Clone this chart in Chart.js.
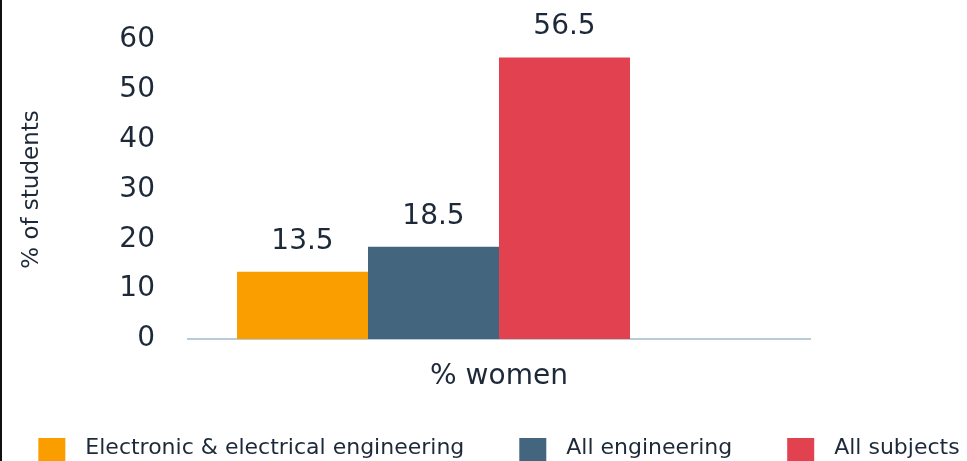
<!DOCTYPE html>
<html>
<head>
<meta charset="utf-8">
<script src="https://cdn.jsdelivr.net/npm/chart.js@4.4.1/dist/chart.umd.min.js"></script>
<style>
  html, body { margin: 0; padding: 0; background: #fff; }
  #wrap { position: relative; width: 967px; height: 461px; overflow: hidden; }
  #edge { position: absolute; left: 0; top: 0; width: 2px; height: 461px; background: #111; }
</style>
</head>
<body>
<div id="wrap">
  <canvas id="c" width="967" height="461"></canvas>
  <div id="edge"></div>
</div>
<script>
const categories = ["% women"];
const seriesNames = ["Electronic & electrical engineering", "All engineering", "All subjects"];
const electronicValues = [13.5];
const allEngineeringValues = [18.5];
const allSubjectsValues = [56.5];
const yTicks = [0, 10, 20, 30, 40, 50, 60];
const seriesColors = ["#fa9e00", "#43657d", "#e2414f"];

const textColor = "#1d2939";
const mainFont = "'DejaVu Sans', sans-serif";

const valueLabels = {
  id: 'valueLabels',
  afterDatasetsDraw(chart) {
    const ctx = chart.ctx;
    ctx.save();
    ctx.font = "28px " + mainFont;
    ctx.fillStyle = textColor;
    ctx.textAlign = 'center';
    ctx.textBaseline = 'alphabetic';
    chart.data.datasets.forEach((ds, i) => {
      if (ds.hiddenSlot) return;
      const meta = chart.getDatasetMeta(i);
      meta.data.forEach((el, j) => {
        const v = ds.data[j];
        if (v == null) return;
        ctx.fillText(v.toFixed(1), el.x, el.y - 23);
      });
    });
    ctx.restore();
  }
};

const customLegend = {
  id: 'customLegend',
  afterDraw(chart) {
    const ctx = chart.ctx;
    const area = chart.chartArea;
    ctx.save();
    ctx.font = "22px " + mainFont;
    const box = 27, gapText = 20, gapItem = 55;
    const items = chart.data.datasets.filter(d => !d.hiddenSlot).map(d => ({
      text: d.label, color: d.backgroundColor, w: ctx.measureText(d.label).width
    }));
    let total = 0;
    items.forEach((it, k) => { total += box + gapText + it.w + (k ? gapItem : 0); });
    let x = (area.left + area.right) / 2 - total / 2;
    const boxTop = 438, textY = 448;
    items.forEach(it => {
      ctx.fillStyle = it.color;
      ctx.fillRect(x, boxTop, box, box);
      ctx.fillStyle = textColor;
      ctx.textAlign = 'left';
      ctx.textBaseline = 'middle';
      ctx.fillText(it.text, x + box + gapText, textY);
      x += box + gapText + it.w + gapItem;
    });
    ctx.restore();
  }
};

new Chart(document.getElementById('c'), {
  type: 'bar',
  data: {
    labels: categories,
    datasets: [
      { label: seriesNames[0], data: electronicValues, backgroundColor: seriesColors[0] },
      { label: seriesNames[1], data: allEngineeringValues, backgroundColor: seriesColors[1] },
      { label: seriesNames[2], data: allSubjectsValues, backgroundColor: seriesColors[2] },
      { label: "", data: [null], backgroundColor: "rgba(0,0,0,0)", hiddenSlot: true }
    ]
  },
  options: {
    responsive: false,
    animation: false,
    devicePixelRatio: 1,
    layout: { padding: { left: 0, right: 157, top: 40, bottom: 0 } },
    datasets: { bar: { categoryPercentage: 0.8424, barPercentage: 1.0, borderWidth: 0 } },
    plugins: { legend: { display: false }, tooltip: { enabled: false } },
    scales: {
      x: {
        grid: { display: false },
        border: { display: true, color: "#b7ccd8", width: 2 },
        ticks: { color: textColor, font: { family: mainFont, size: 28 }, padding: 13 },
        afterFit(scale) { scale.height = 122; }
      },
      y: {
        min: 0, max: 60,
        afterBuildTicks(scale) { scale.ticks = yTicks.map(v => ({ value: v })); },
        grid: { display: false, drawTicks: false },
        border: { display: false },
        ticks: { color: textColor, font: { family: mainFont, size: 28 }, padding: 33 },
        title: { display: true, text: "% of students", color: textColor,
                 font: { family: mainFont, size: 23 }, padding: { top: 18, bottom: 0 } },
        afterFit(scale) { scale.width = 188; scale.paddingTop = 0; scale.paddingBottom = 0; }
      }
    }
  },
  plugins: [valueLabels, customLegend]
});
</script>
</body>
</html>
